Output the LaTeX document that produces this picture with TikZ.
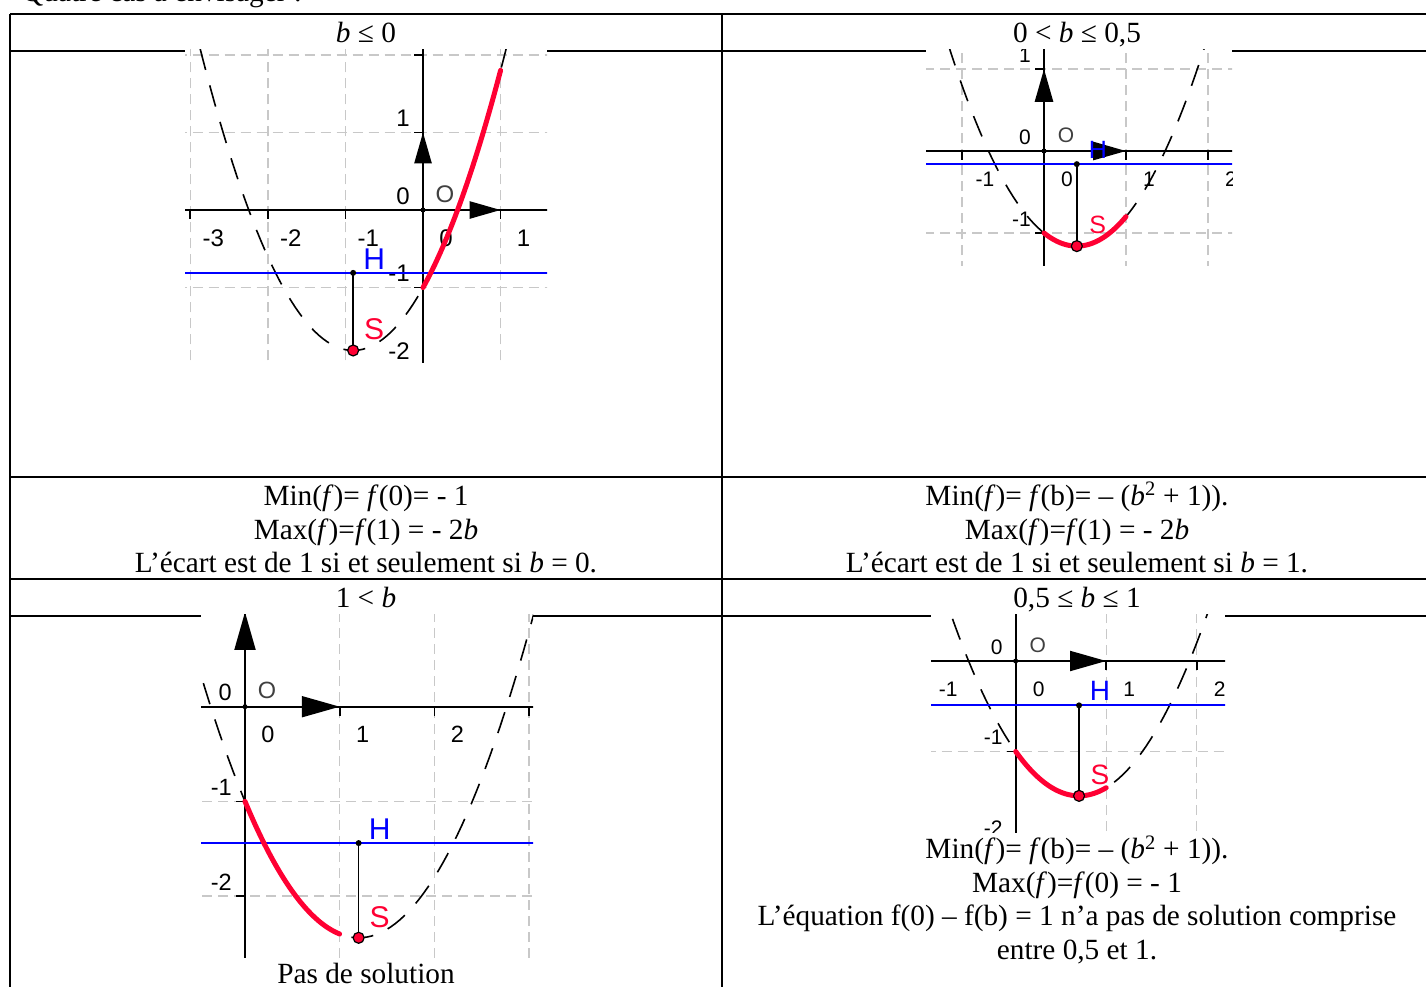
\documentclass[tikz,border=0pt]{standalone}
\usepackage{fontspec}
\setmainfont{Liberation Serif}
\setsansfont{Liberation Sans}
\usetikzlibrary{arrows.meta}
\definecolor{geored}{HTML}{FF0033}
\definecolor{geoblue}{HTML}{0000FF}
\definecolor{geogrid}{HTML}{C8C8C8}
\definecolor{geolabel}{HTML}{404040}

\tikzset{
  grille/.style={geogrid, line width=1.4pt, dash pattern=on 10pt off 6pt},
  axe/.style={black, line width=1.6pt},
  vecteur/.style={black, line width=2.4pt, -{Triangle[length=\flong pt, width=\flarg pt]}},
  parabole/.style={black, line width=1.6pt, dash pattern=on 22pt off 16pt},
  courbe/.style={geored, line width=5pt, line cap=round},
  droite/.style={geoblue, line width=2pt},
  segment/.style={black, line width=1.6pt},
  grad/.style={inner sep=0pt},
  trait/.style={line width=1.6pt},
  texte/.style={font=\fontsize{29.3pt}{33.5pt}\selectfont, anchor=base, inner sep=0pt}
}

% #1,#2 origine (px), #3 unite, #4 valeur de b, #5 police graduations, #6 police H/S, #7 cadre
\newcommand{\graphe}[7]{%
  \begin{scope}
    \clip #7;
    \fill[white] #7;
    \pgfmathsetmacro{\flong}{0.4*#3}
    \pgfmathsetmacro{\flarg}{0.22*#3}
    \def\policegrad{\sffamily\fontsize{#5pt}{#5pt}\selectfont}
    \def\policeetiq{\sffamily\fontsize{#6pt}{#6pt}\selectfont}
    \begin{scope}[shift={(#1,#2)}, x=#3pt, y=#3pt]
      % quadrillage et axes
      \foreach \k in {-4,...,4} {
        \draw[grille] (\k,-4) -- (\k,4);
        \draw[grille] (-4,\k) -- (4,\k);
      }
      \draw[axe] (-4,0) -- (4,0);
      \draw[axe] (0,-4) -- (0,4);
      \foreach \k in {-4,...,4} {
        \ifnum\k=0\else
          \draw[axe] (\k,0) -- ++(0,-9pt);
          \draw[axe] (0,\k) -- ++(-9pt,0);
        \fi
        \node[grad, font=\policegrad, xshift=23pt, yshift=-28pt] (gx\k) at (\k,0) {\k};
        \node[grad, anchor=east, font=\policegrad, xshift=-13pt, yshift=14pt] (gy\k) at (0,\k) {\k};
      }
      \node[grad, font=\policegrad, text=geolabel, xshift=22pt, yshift=16pt] (lO) at (0,0) {O};
      % parabole
      \draw[parabole] plot[domain=-3.5:3.5, samples=140] (\x, {(\x)*(\x)-2*(#4)*(\x)-1});
      \draw[droite] (-4,{-(#4)*(#4)}) -- (4,{-(#4)*(#4)});
      \coordinate (H) at (#4,{-(#4)*(#4)});
      \coordinate (S) at (#4,{-(#4)*(#4)-1});
      \draw[segment] (S) -- (H);
      \draw[vecteur] (0,0) -- (1,0);
      \draw[vecteur] (0,0) -- (0,1);
      \draw[courbe] plot[domain=0:1, samples=40] (\x, {(\x)*(\x)-2*(#4)*(\x)-1});
      \fill (0,0) circle (2.5pt);
      \fill (H) circle (3pt);
      \filldraw[fill=geored, draw=black, line width=1.2pt] (S) circle (5.5pt);
      \node[grad, font=\policeetiq, text=geoblue, xshift=21pt, yshift=14pt] (lH) at (H) {H};
      \node[grad, font=\policeetiq, text=geored, xshift=21pt, yshift=21pt] (lS) at (S) {S};
    \end{scope}
  \end{scope}
}

\begin{document}
\begin{tikzpicture}[x=1pt, y=-1pt]
  \useasboundingbox (0,0) rectangle (1426,986);

  % tableau
  \foreach \y in {14,51,477,579,616}
    \draw[trait] (10,\y) -- (1440,\y);
  \draw[trait] (10,14) -- (10,995);
  \draw[trait] (722,14) -- (722,995);

  \node[texte, anchor=base west] (titre) at (22,1.5) {Quatre cas à envisager :};

  \node[texte] (cas1) at (366,42) {\textit{b} ≤ 0};
  \node[texte] (cas2) at (1077,42) {0 < \textit{b} ≤ 0,5};
  \node[texte] (cas3) at (366,607) {1 < \textit{b}};
  \node[texte] (cas4) at (1077,607.5) {0,5 ≤ \textit{b} ≤ 1};

  % graphiques
  \graphe{423}{210}{77.6}{-0.9}{24}{30}{(185,49) rectangle (547,362)}
  \graphe{1044}{151}{82}{0.4}{21}{25}{(926,49) rectangle (1232,265)}
  \graphe{245}{706.7}{94.7}{1.2}{23.5}{30}{(201,614) rectangle (533,957)}
  \graphe{1015.7}{661}{90.5}{0.7}{21}{28}{(931,614) rectangle (1225,832)}

  % conclusions
  \node[texte] (min1) at (366,505) {Min(\textit{f})= \textit{f}(0)= - 1};
  \node[texte] (max1) at (366,539) {Max(\textit{f})=\textit{f}(1) = - 2\textit{b}};
  \node[texte] (ecart1) at (366,572) {L’écart est de 1 si et seulement si \textit{b} = 0.};

  \node[texte] (min2) at (1077,505) {Min(\textit{f})= \textit{f}(b)= – (\textit{b}\textsuperscript{2} + 1)).};
  \node[texte] (max2) at (1077,539) {Max(\textit{f})=\textit{f}(1) = - 2\textit{b}};
  \node[texte] (ecart2) at (1077,572) {L’écart est de 1 si et seulement si \textit{b} = 1.};

  \node[texte] (sol3) at (366,983) {Pas de solution};

  \node[texte] (min4) at (1077,858.5) {Min(\textit{f})= \textit{f}(b)= – (\textit{b}\textsuperscript{2} + 1)).};
  \node[texte] (max4) at (1077,892) {Max(\textit{f})=\textit{f}(0) = - 1};
  \node[texte] (eq4) at (1077,925.5) {L’équation f(0) – f(b) = 1 n’a pas de solution comprise};
  \node[texte] (ent4) at (1077,959) {entre 0,5 et 1.};
\end{tikzpicture}
\end{document}
